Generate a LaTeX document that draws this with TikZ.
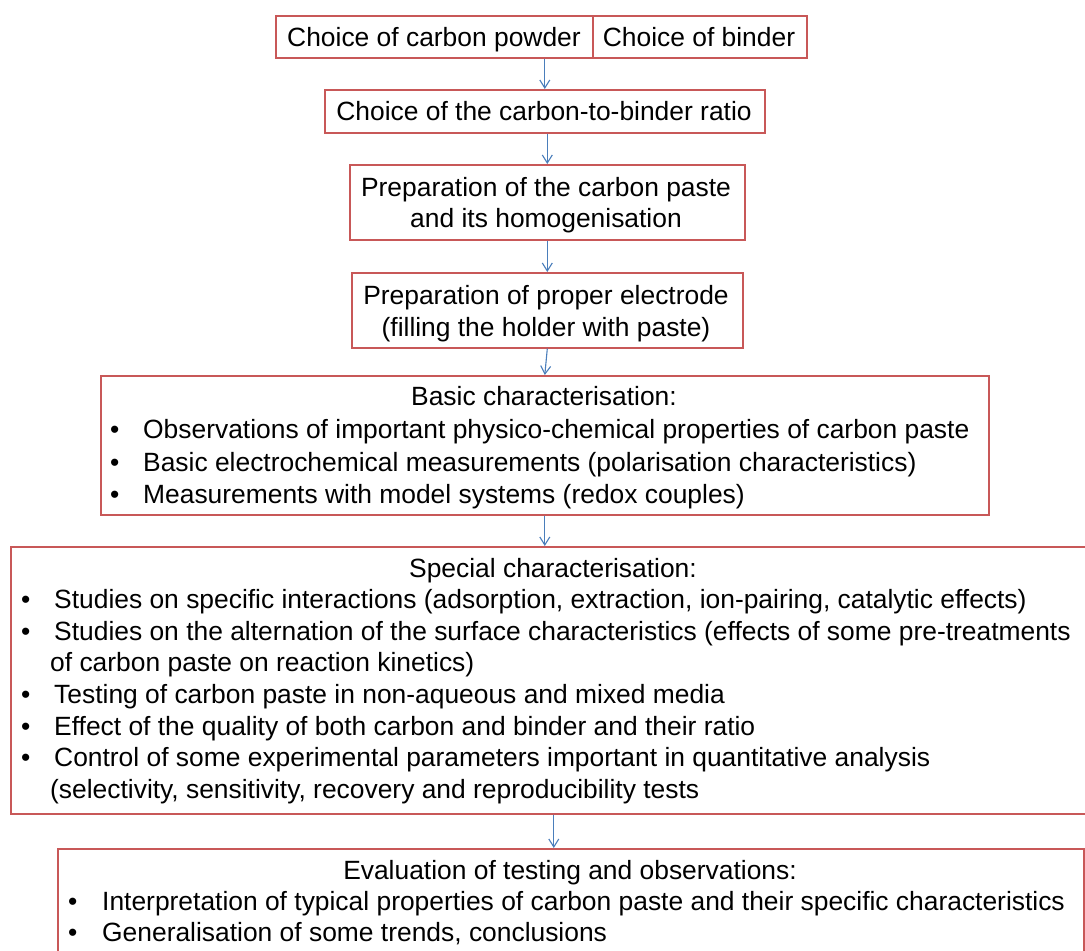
\documentclass[tikz,border=0pt]{standalone}
\usepackage{fontspec}
\setmainfont{Liberation Sans}
\usetikzlibrary{arrows.meta}
\definecolor{boxred}{RGB}{200,88,88}
\definecolor{arrblue}{RGB}{74,126,187}
\tikzset{
  box/.style={draw=boxred, line width=1.6pt, rectangle, inner sep=0pt, anchor=north west},
  txt/.style={inner sep=0pt, font=\fontsize{26.4}{30}\selectfont, text=black},
  lft/.style={txt, anchor=base west},
  ctr/.style={txt, anchor=base},
  arr/.style={draw=arrblue, line width=1.1pt, -{Straight Barb[length=8pt,width=10pt,line width=1.1pt]}}
}
\begin{document}
\begin{tikzpicture}[x=1pt,y=-1pt]
\clip (0,0) rectangle (1085,951);
\fill[white] (0,0) rectangle (1085,951);
% boxes
\node[box, minimum width=317pt, minimum height=42pt] (powder) at (275,15) {};
\node[box, minimum width=214pt, minimum height=42pt] (binder) at (592,15) {};
\node[box, minimum width=440pt, minimum height=43pt] (ratio) at (324,89) {};
\node[box, minimum width=395pt, minimum height=75pt] (paste) at (349,164) {};
\node[box, minimum width=391pt, minimum height=75pt] (elec) at (351,272) {};
\node[box, minimum width=888pt, minimum height=139pt] (basic) at (100,375) {};
\node[box, minimum width=1086pt, minimum height=267pt] (special) at (10,546) {};
\node[box, minimum width=1026pt, minimum height=140pt] (eval) at (57,848) {};
% texts
\node[ctr] (t1) at (434,46) {Choice of carbon powder};
\node[ctr] (t2) at (699,46) {Choice of binder};
\node[ctr] (t3) at (544,120) {Choice of the carbon-to-binder ratio};
\node[ctr] (t4) at (546,196) {Preparation of the carbon paste};
\node[ctr] (t5) at (546,227) {and its homogenisation};
\node[ctr] (t6) at (546,304) {Preparation of proper electrode};
\node[ctr] (t7) at (546,336) {(filling the holder with paste)};
% basic
\node[ctr] (b0) at (544,405) {Basic characterisation:};
\node[lft] (bb1) at (110,438) {•};
\node[lft] (b1) at (143,438) {Observations of important physico-chemical properties of carbon paste};
\node[lft] (bb2) at (110,471) {•};
\node[lft] (b2) at (143,471) {Basic electrochemical measurements (polarisation characteristics)};
\node[lft] (bb3) at (110,503) {•};
\node[lft] (b3) at (143,503) {Measurements with model systems (redox couples)};
% special
\node[ctr] (s0) at (553,577) {Special characterisation:};
\node[lft] (sb1) at (21,608) {•};
\node[lft] (s1) at (54,608) {Studies on specific interactions (adsorption, extraction, ion-pairing, catalytic effects)};
\node[lft] (sb2) at (21,640) {•};
\node[lft] (s2) at (54,640) {Studies on the alternation of the surface characteristics (effects of some pre-treatments};
\node[lft] (s3) at (50,671) {of carbon paste on reaction kinetics)};
\node[lft] (sb4) at (21,703) {•};
\node[lft] (s4) at (54,703) {Testing of carbon paste in non-aqueous and mixed media};
\node[lft] (sb5) at (21,735) {•};
\node[lft] (s5) at (54,735) {Effect of the quality of both carbon and binder and their ratio};
\node[lft] (sb6) at (21,766) {•};
\node[lft] (s6) at (54,766) {Control of some experimental parameters important in quantitative analysis};
\node[lft] (s7) at (50,798) {(selectivity, sensitivity, recovery and reproducibility tests};
% evaluation
\node[ctr] (e0) at (570,879) {Evaluation of testing and observations:};
\node[lft] (eb1) at (68,910) {•};
\node[lft] (e1) at (102,910) {Interpretation of typical properties of carbon paste and their specific characteristics};
\node[lft] (eb2) at (68,941) {•};
\node[lft] (e2) at (102,941) {Generalisation of some trends, conclusions};
% arrows
\draw[arr] (ratio.north |- powder.south) -- (ratio.north);
\draw[arr] (paste.north |- ratio.south) -- (paste.north);
\draw[arr] (paste.south) -- (elec.north);
\draw[arr] (elec.south) -- (basic.north);
\draw[arr] (basic.south) -- (basic.south |- special.north);
\draw[arr] (special.south) -- (special.south |- eval.north);
\end{tikzpicture}
\end{document}
